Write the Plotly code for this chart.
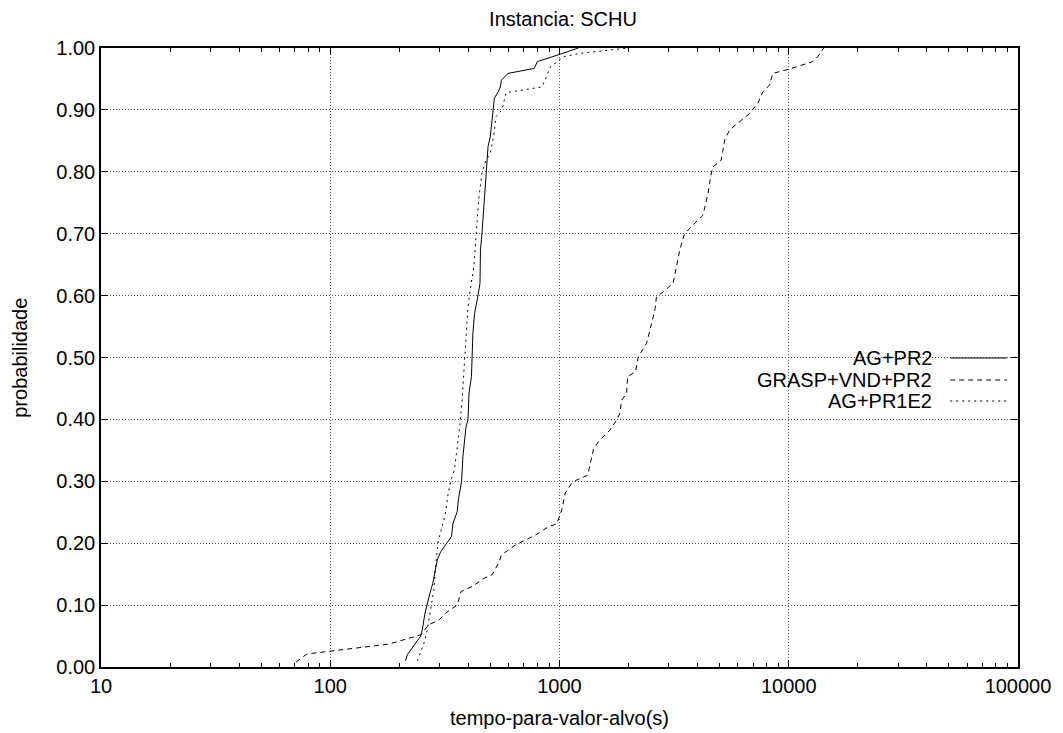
import plotly.graph_objects as go

# ---- data ----
ag_pr2_t = [213, 217, 248, 252, 259, 265, 272, 280, 286, 293, 303, 318, 338, 343, 358, 362, 367, 374,
            379, 386, 391, 399, 403, 413, 416, 419, 426, 433, 440, 450, 452, 459, 467, 478, 488, 499,
            511, 520, 540, 552, 558, 596, 776, 800, 1007, 1209]
ag_pr2_p = [0.010, 0.020, 0.050, 0.060, 0.087, 0.103, 0.119, 0.135, 0.151, 0.173, 0.186, 0.197, 0.211,
            0.232, 0.251, 0.270, 0.286, 0.300, 0.340, 0.367, 0.388, 0.400, 0.442, 0.469, 0.496, 0.539,
            0.571, 0.588, 0.598, 0.620, 0.674, 0.700, 0.738, 0.798, 0.841, 0.857, 0.900, 0.919, 0.929,
            0.937, 0.948, 0.959, 0.967, 0.978, 0.990, 1.000]

grasp_t = [71, 79, 180, 213, 248, 269, 298, 324, 358, 372, 416, 467, 508, 543, 558, 642, 758, 811, 896,
           973, 1023, 1059, 1131, 1189, 1328, 1360, 1405, 1478, 1661, 1775, 1836, 1866, 1962, 1982,
           2147, 2206, 2397, 2480, 2607, 2649, 2833, 3131, 3236, 3348, 3496, 3639, 4228, 4444, 4594,
           4673, 5077, 5253, 5524, 6748, 7332, 7709, 8245, 8519, 10070, 12718, 13371, 14198]
grasp_p = [0.008, 0.021, 0.037, 0.045, 0.052, 0.068, 0.076, 0.089, 0.100, 0.122, 0.130, 0.143, 0.149,
           0.168, 0.181, 0.197, 0.211, 0.216, 0.227, 0.231, 0.254, 0.281, 0.297, 0.302, 0.310, 0.329,
           0.351, 0.364, 0.383, 0.399, 0.410, 0.431, 0.442, 0.469, 0.477, 0.501, 0.523, 0.544, 0.577,
           0.598, 0.606, 0.620, 0.647, 0.674, 0.698, 0.706, 0.730, 0.765, 0.798, 0.808, 0.819, 0.851,
           0.868, 0.894, 0.911, 0.929, 0.940, 0.959, 0.966, 0.978, 0.986, 1.000]

ag_pr1e2_t = [240, 256, 265, 274, 280, 283, 288, 293, 296, 308, 318, 326, 335, 348, 358, 367, 376, 385,
              393, 398, 406, 423, 434, 444, 459, 478, 499, 516, 528, 561, 577, 585, 837, 865, 910, 1007,
              1041, 1209, 1995]
ag_pr1e2_p = [0.010, 0.038, 0.060, 0.090, 0.110, 0.124, 0.162, 0.184, 0.205, 0.227, 0.248, 0.278, 0.300,
              0.318, 0.351, 0.388, 0.431, 0.491, 0.528, 0.577, 0.604, 0.647, 0.703, 0.755, 0.798, 0.819,
              0.830, 0.857, 0.889, 0.900, 0.919, 0.928, 0.937, 0.948, 0.969, 0.981, 0.986, 0.991, 1.000]

series_names = ["AG+PR2", "GRASP+VND+PR2", "AG+PR1E2"]
series_dash = ["solid", "5px,4px", "2px,4px"]

x_tickvals = [10, 100, 1000, 10000, 100000]
x_ticktext = ["10", "100", "1000", "10000", "100000"]
x_minor = [m * 10 ** e for e in range(1, 5) for m in range(2, 10)]
y_tickvals = [i / 10 for i in range(11)]

FONT = "Liberation Sans, Arial, sans-serif"
FS = 20

# page body has an 8px margin: figure is placed at (8, 8) in the window
OFF = 8
W, H = 1063 - OFF, 733 - OFF
PL, PR, PT, PB = 101, 1021, 48, 667  # plot-area edges in window pixels

fig = go.Figure()
for name, tx, py, dash in zip(series_names,
                              [ag_pr2_t, grasp_t, ag_pr1e2_t],
                              [ag_pr2_p, grasp_p, ag_pr1e2_p],
                              series_dash):
    fig.add_trace(go.Scatter(x=tx, y=py, mode="lines", name=name,
                             line=dict(color="black", width=1, dash=dash),
                             showlegend=False))

axis_common = dict(showline=True, linecolor="black", linewidth=1.5, mirror="allticks",
                   ticks="inside", tickcolor="black", tickwidth=1, ticklen=7,
                   showgrid=True, gridcolor="#555", gridwidth=1, griddash="1px,2px",
                   zeroline=False, tickfont=dict(family=FONT, size=FS, color="black"))

fig.update_xaxes(type="log", range=[1, 5], tickvals=x_tickvals, ticktext=x_ticktext,
                 minor=dict(tickvals=x_minor, ticks="inside", ticklen=4, tickcolor="black",
                            showgrid=False),
                 **axis_common)
fig.update_yaxes(range=[0, 1], tickvals=y_tickvals, tickformat=".2f", **axis_common)

pw, ph = PR - PL, PB - PT

def px_x(x):
    return (x - PL) / pw

def px_y(y):
    return (PB - y) / ph

# legend (gnuplot style: text right-aligned, sample to the right)
leg_rows = [358, 380, 401]
fig.add_shape(type="rect", xref="paper", yref="paper", x0=px_x(781), x1=px_x(1019),
              y0=px_y(405), y1=px_y(347),
              fillcolor="white", line=dict(width=0), layer="between")
for name, dash, yy in zip(series_names, series_dash, leg_rows):
    fig.add_annotation(x=px_x(937), y=px_y(yy), xref="paper", yref="paper", text=name,
                       showarrow=False, xanchor="right", yanchor="middle",
                       font=dict(family=FONT, size=FS, color="black"))
    fig.add_shape(type="line", xref="paper", yref="paper", x0=px_x(953), x1=px_x(1010),
                  y0=px_y(yy), y1=px_y(yy), line=dict(color="black", width=1, dash=dash))

# axis titles
fig.add_annotation(x=0.5, y=px_y(718), xref="paper", yref="paper",
                   text="tempo-para-valor-alvo(s)", showarrow=False, yanchor="middle",
                   font=dict(family=FONT, size=FS, color="black"))
fig.add_annotation(x=px_x(19), y=0.5, xref="paper", yref="paper",
                   text="probabilidade", showarrow=False, textangle=-90,
                   xanchor="center", yanchor="middle",
                   font=dict(family=FONT, size=FS, color="black"))

fig.update_layout(
    width=W, height=H,
    margin=dict(l=PL - OFF, r=W - (PR - OFF), t=PT - OFF, b=H - (PB - OFF)),
    paper_bgcolor="white", plot_bgcolor="white",
    title=dict(text="Instancia: SCHU", x=(563 - OFF) / W, xanchor="center",
               y=1 - (18.5 - OFF) / H, yanchor="middle", yref="container",
               font=dict(family=FONT, size=FS, color="black")),
)

fig.write_html("out.html")
